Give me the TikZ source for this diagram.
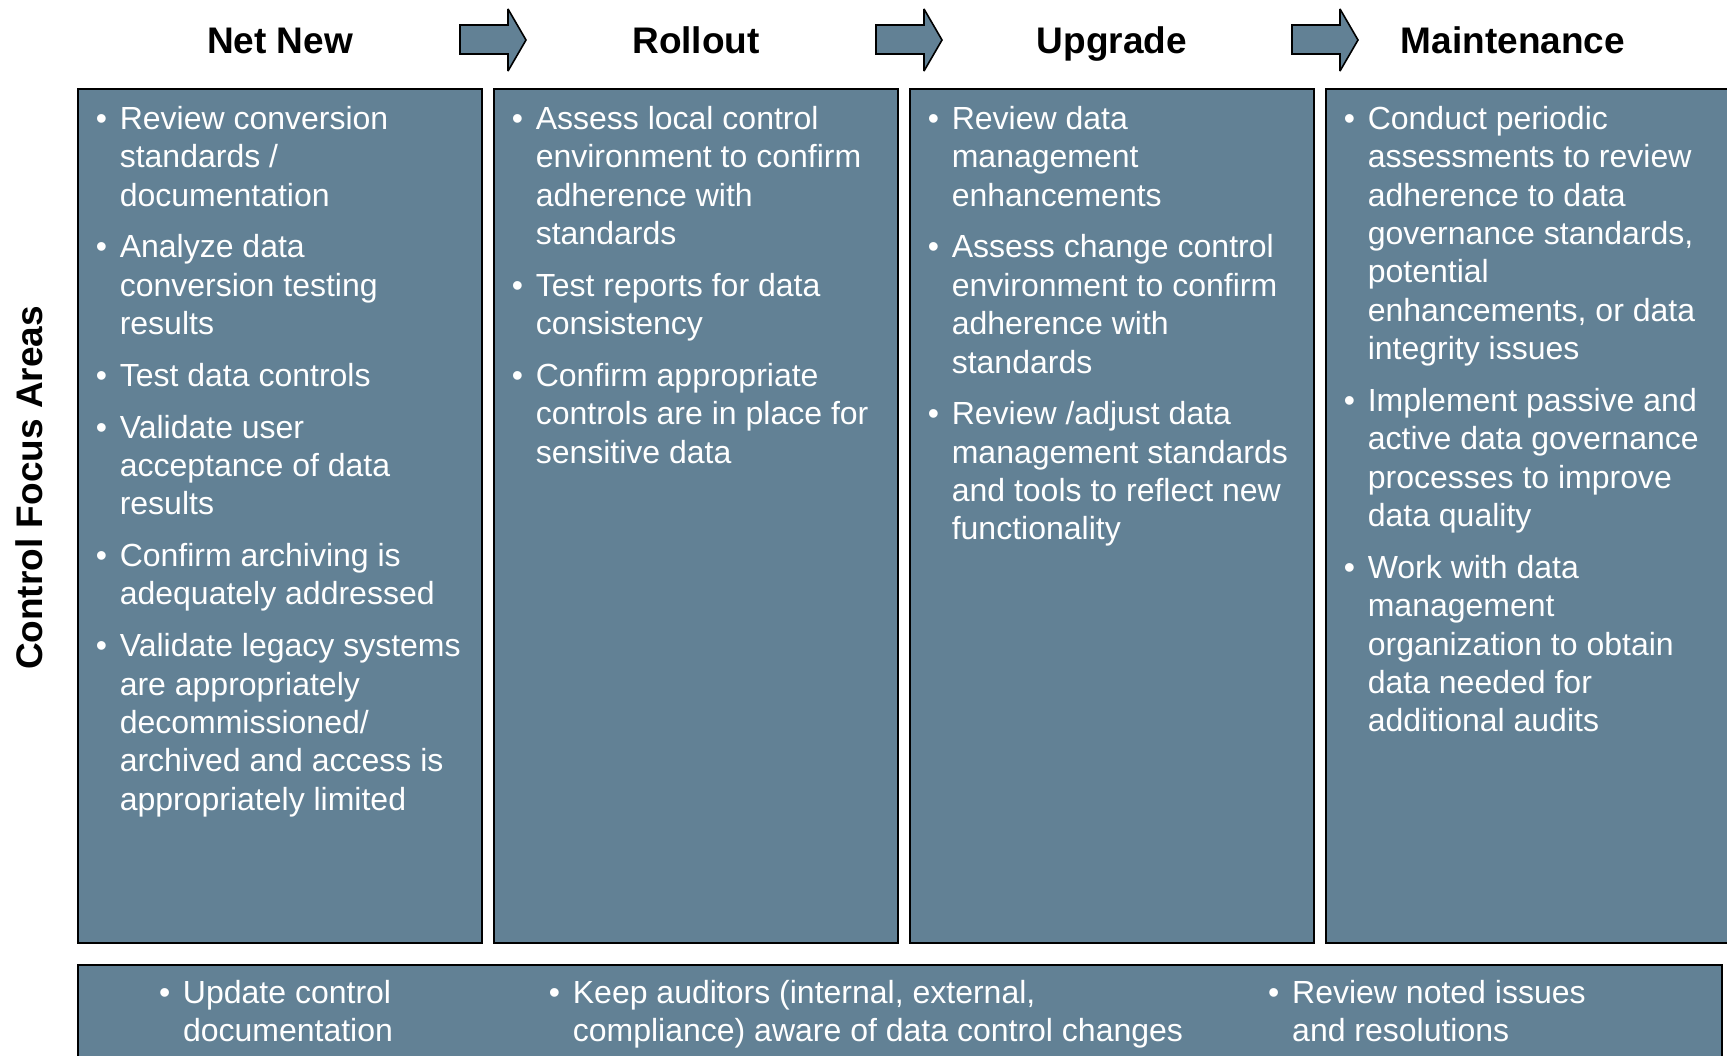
\documentclass[tikz,border=0pt]{standalone}
\usepackage{fontspec}
\setmainfont{Liberation Sans}
\definecolor{boxfill}{RGB}{98,129,149}
\tikzset{
  colbox/.style={draw=black, line width=2.4pt, fill=boxfill},
  hdr/.style={font=\fontsize{37}{44}\selectfont\bfseries, text=black, inner sep=0pt, anchor=base},
  btxt/.style={font=\fontsize{32}{38.4}\selectfont, text=white, inner sep=0pt, anchor=base west},
  flowarrow/.style={draw=black, line width=1.6pt, fill=boxfill, line join=miter, miter limit=2}
}
\newcommand{\bl}{\textbullet}
\begin{document}
\begin{tikzpicture}[x=1pt,y=-1pt]
\clip (0,0) rectangle (1727,1055);
\fill[white] (0,0) rectangle (1727,1055);

% column boxes
\node[colbox, rectangle, minimum width=404pt, minimum height=854pt, anchor=north west, inner sep=0pt] (b1) at (77,88) {};
\node[colbox, rectangle, minimum width=404pt, minimum height=854pt, anchor=north west, inner sep=0pt] (b2) at (493,88) {};
\node[colbox, rectangle, minimum width=404pt, minimum height=854pt, anchor=north west, inner sep=0pt] (b3) at (909,88) {};
\node[colbox, rectangle, minimum width=420pt, minimum height=854pt, anchor=north west, inner sep=0pt] (b4) at (1325,88) {};
\node[colbox, rectangle, minimum width=1644pt, minimum height=110pt, anchor=north west, inner sep=0pt] (bb) at (77,964) {};

% arrows
\foreach \dx in {0,416,832}{
  \draw[flowarrow] (460+\dx,25) -- (508+\dx,25) -- (508+\dx,9) -- (526+\dx,40) -- (508+\dx,71) -- (508+\dx,54) -- (460+\dx,54) -- cycle;
}

% headers
\node[hdr] (h1) at (280,53) {Net New};
\node[hdr] (h2) at (696,53) {Rollout};
\node[hdr] (h3) at (1112,53) {Upgrade};
\node[hdr] (h4) at (1513,53) {Maintenance};

% side label
\node[font=\fontsize{37}{44}\selectfont\bfseries, rotate=90, inner sep=0pt] (side) at (29,488) {Control Focus Areas};

% column texts
\node[btxt] (t1) at (95.6,129.3) {\begin{tabular}[t]{@{}p{24pt}@{}l@{}}
\bl & Review conversion\\
 & standards /\\
 & documentation\\[13.3pt]
\bl & Analyze data\\
 & conversion testing\\
 & results\\[13.3pt]
\bl & Test data controls\\[13.3pt]
\bl & Validate user\\
 & acceptance of data\\
 & results\\[13.3pt]
\bl & Confirm archiving is\\
 & adequately addressed\\[13.3pt]
\bl & Validate legacy systems\\
 & are appropriately\\
 & decommissioned/\\
 & archived and access is\\
 & appropriately limited
\end{tabular}};

\node[btxt] (t2) at (511.6,129.3) {\begin{tabular}[t]{@{}p{24pt}@{}l@{}}
\bl & Assess local control\\
 & environment to confirm\\
 & adherence with\\
 & standards\\[13.3pt]
\bl & Test reports for data\\
 & consistency\\[13.3pt]
\bl & Confirm appropriate\\
 & controls are in place for\\
 & sensitive data
\end{tabular}};

\node[btxt] (t3) at (927.6,129.3) {\begin{tabular}[t]{@{}p{24pt}@{}l@{}}
\bl & Review data\\
 & management\\
 & enhancements\\[13.3pt]
\bl & Assess change control\\
 & environment to confirm\\
 & adherence with\\
 & standards\\[13.3pt]
\bl & Review /adjust data\\
 & management standards\\
 & and tools to reflect new\\
 & functionality
\end{tabular}};

\node[btxt] (t4) at (1343.6,129.3) {\begin{tabular}[t]{@{}p{24pt}@{}l@{}}
\bl & Conduct periodic\\
 & assessments to review\\
 & adherence to data\\
 & governance standards,\\
 & potential\\
 & enhancements, or data\\
 & integrity issues\\[13.3pt]
\bl & Implement passive and\\
 & active data governance\\
 & processes to improve\\
 & data quality\\[13.3pt]
\bl & Work with data\\
 & management\\
 & organization to obtain\\
 & data needed for\\
 & additional audits
\end{tabular}};

% bottom texts
\node[btxt] (u1) at (158.8,1003.5) {\begin{tabular}[t]{@{}p{24pt}@{}l@{}}
\bl & Update control\\
 & documentation
\end{tabular}};
\node[btxt] (u2) at (548.7,1003.5) {\begin{tabular}[t]{@{}p{24pt}@{}l@{}}
\bl & Keep auditors (internal, external,\\
 & compliance) aware of data control changes
\end{tabular}};
\node[btxt] (u3) at (1268,1003.5) {\begin{tabular}[t]{@{}p{24pt}@{}l@{}}
\bl & Review noted issues\\
 & and resolutions
\end{tabular}};
\end{tikzpicture}
\end{document}
